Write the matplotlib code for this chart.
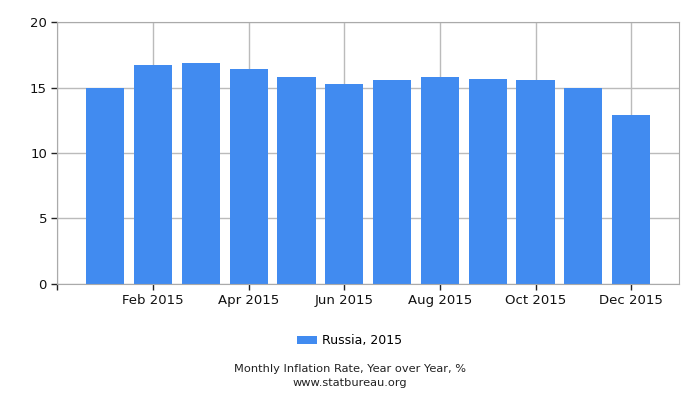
import matplotlib
matplotlib.use("Agg")
import matplotlib.pyplot as plt

months = ["Jan 2015", "Feb 2015", "Mar 2015", "Apr 2015", "May 2015", "Jun 2015",
          "Jul 2015", "Aug 2015", "Sep 2015", "Oct 2015", "Nov 2015", "Dec 2015"]
russia_2015 = [15.0, 16.7, 16.9, 16.4, 15.8, 15.3, 15.6, 15.8, 15.7, 15.6, 15.0, 12.9]

fig = plt.figure(figsize=(7, 4), dpi=100)
ax = fig.add_axes([0.082, 0.291, 0.888, 0.653])

x = list(range(len(months)))
ax.bar(x, russia_2015, width=0.8, color="#418bf0", label="Russia, 2015", zorder=2)

ax.set_xlim(-1.0, 12.0)
ax.set_ylim(0, 20)
ax.set_yticks([0, 5, 10, 15, 20])
ax.set_xticks([-1] + x[1::2])
ax.set_xticklabels([""] + months[1::2])

ax.grid(True, color="#bbbbbb", linewidth=1, zorder=0)
ax.set_axisbelow(True)
for s in ax.spines.values():
    s.set_color("#aaaaaa")
ax.tick_params(axis="both", length=4, width=1, color="#222222", labelsize=9.5, labelcolor="#111111")

fig.legend(loc="center", bbox_to_anchor=(0.5, 0.148), frameon=False, fontsize=9,
           handlelength=1.6, handleheight=0.7, handletextpad=0.4)

fig.text(0.5, 0.078, "Monthly Inflation Rate, Year over Year, %", ha="center", va="center",
         fontsize=8.2, color="#222222")
fig.text(0.5, 0.042, "www.statbureau.org", ha="center", va="center", fontsize=8.2, color="#222222")

fig.savefig("out.png", dpi=100)
